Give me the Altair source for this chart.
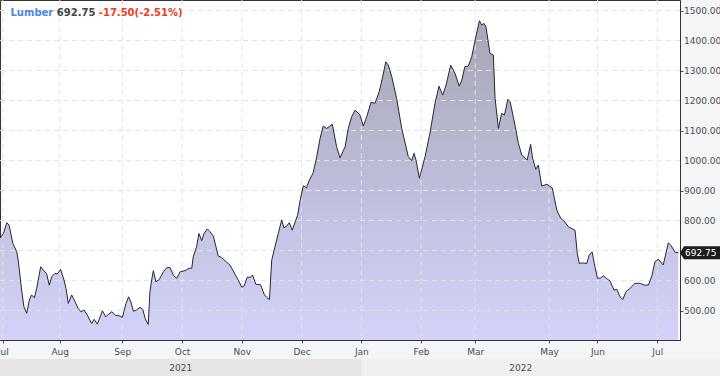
import altair as alt
import pandas as pd

# ---- data (x = trading-session index, y = price) ----
session = [0.0, 1.2, 2.4, 3.2, 4.5, 5.9, 6.4, 7.6, 8.4, 9.4, 10.3, 11.1, 12.1, 12.9, 14.3, 15.2, 16.4, 17.3, 18.2, 19.3,
           20.1, 21.3, 22.5, 23.2, 24.0, 25.2, 26.4, 27.5, 28.5, 29.5, 30.7, 32.2, 33.1, 34.2, 36.0, 37.2, 38.1, 39.3,
           40.7, 41.8, 43.0, 44.3, 45.2, 46.0, 46.9, 48.0, 49.2, 50.2, 51.0, 52.1, 52.7, 53.3, 53.9, 54.8, 56.0, 57.4,
           58.6, 59.8, 60.9, 62.1, 63.3, 65.0, 66.5, 67.4, 67.9, 69.1, 69.9, 70.9, 71.7, 72.9, 73.8, 75.0, 75.9, 76.7,
           77.9, 79.1, 80.8, 81.8, 83.2, 85.0, 85.8, 86.9, 87.9, 88.8, 89.9, 91.6, 92.8, 93.7, 94.7, 95.5, 96.7, 97.8,
           99.0, 99.8, 100.8, 101.7, 102.7, 104.6, 105.5, 106.6, 107.7, 108.7, 110.0, 111.1, 112.5, 113.6, 114.8,
           116.8, 118.3, 119.5, 121.3, 122.4, 123.6, 124.8, 126.5, 127.7, 128.9, 130.4, 131.8, 133.3, 134.5, 135.6,
           136.5, 137.7, 139.4, 141.2, 143.5, 144.7, 145.5, 146.2, 147.4, 149.4, 151.1, 152.9, 154.3, 155.6, 156.8,
           158.4, 159.9, 161.4, 162.3, 163.4, 164.6, 165.8, 167.0, 168.5, 169.3, 170.1, 170.8, 172.2, 173.4, 174.0,
           175.2, 176.3, 177.3, 178.5, 179.3, 181.0, 182.2, 183.4, 185.3, 186.5, 187.2, 188.3, 189.2, 190.4, 192.2,
           194.1, 195.7, 197.1, 198.2, 199.8, 202.1, 202.9, 203.6, 204.8, 206.2, 207.1, 208.1, 209.1, 210.0, 211.1,
           212.1, 213.2, 214.4, 215.8, 216.8, 217.9, 218.9, 220.0, 221.4, 223.2, 225.0, 226.4, 227.9, 229.1, 230.2,
           231.4, 233.1, 234.9, 235.9, 237.3, 238.4]
price = [741, 757, 793, 785, 724, 696, 668, 568, 513, 491, 535, 552, 543, 574, 646, 635, 622, 585, 613, 624,
         622, 637, 602, 574, 524, 552, 529, 507, 496, 502, 485, 457, 471, 455, 499, 479, 488, 496,
         484, 483, 477, 524, 546, 529, 498, 502, 511, 504, 474, 454, 563, 602, 633, 596, 604, 629,
         643, 643, 618, 607, 629, 633, 641, 641, 679, 713, 757, 733, 757, 772, 763, 748, 713, 682,
         677, 666, 652, 635, 611, 578, 582, 611, 611, 618, 588, 586, 555, 544, 537, 668, 715, 757,
         802, 776, 782, 793, 768, 818, 868, 916, 909, 935, 957, 1002, 1074, 1115, 1107,
         1121, 1046, 1009, 1046, 1107, 1146, 1168, 1152, 1115, 1146, 1194, 1191, 1230, 1279, 1329,
         1318, 1279, 1207, 1107, 1013, 1000, 1024, 1002, 941, 1013, 1091, 1191, 1248, 1218, 1252,
         1318, 1291, 1248, 1268, 1313, 1315, 1346, 1402, 1466, 1452, 1457, 1446, 1357, 1352, 1207,
         1107, 1157, 1152, 1204, 1196, 1118, 1057, 1018, 1002, 1054, 1007, 971, 985, 915, 921,
         909, 835, 807, 799, 779, 768, 691, 657, 659, 657, 685, 696, 646, 607, 609,
         616, 607, 599, 568, 571, 546, 537, 563, 574, 591, 591, 585, 585, 615, 663,
         671, 652, 726, 716, 694, 692.75]

month_idx = [1, 21, 43, 64, 85, 106, 127, 148, 167, 193, 210, 231]
month_lbl = ["Jul", "Aug", "Sep", "Oct", "Nov", "Dec", "Jan", "Feb", "Mar", "May", "Jun", "Jul"]
y_ticks = [500, 600, 700, 800, 900, 1000, 1100, 1200, 1300, 1400, 1500]
years = ["2021", "2022"]
year_start = [0, 127]
year_end = [127, 239]

symbol = "Lumber"
last_price = 692.75
change = -17.50
change_pct = -2.51

FONT = "DejaVu Sans"
Y_MIN, Y_MAX = 402, 1535

df = pd.DataFrame({"s": session, "p": price})
df_y = pd.DataFrame({"p": y_ticks})
# labels hidden behind the last-price marker are not drawn (as in the reference)
df_ylab = pd.DataFrame({"p": [v for v in y_ticks if abs(v - last_price) > 20]})
df_ylab["t"] = [f"{v:.2f}" for v in df_ylab["p"]]
df_m = pd.DataFrame({"s": month_idx})
df_year = pd.DataFrame({"year": years, "start": year_start, "end": year_end})
df_year["s"] = (df_year["start"] + df_year["end"]) / 2
df_last = pd.DataFrame({"p": [last_price], "t": [f"{last_price:.2f}"]})
df_one = pd.DataFrame({"a": [0]})

xs = alt.Scale(domain=[0, 239], nice=False, zero=False)
ys = alt.Scale(domain=[Y_MIN, Y_MAX], nice=False, zero=False)

label_expr = ("[" + ",".join(f"'{m}'" for m in month_lbl) + "][indexof(["
              + ",".join(str(i) for i in month_idx) + "], datum.value)]")

grad = alt.Gradient(
    gradient="linear",
    stops=[alt.GradientStop(color="#a6a6b3", offset=0),
           alt.GradientStop(color="#bdbdda", offset=0.5),
           alt.GradientStop(color="#d3d3f9", offset=1)],
    x1=1, x2=1, y1=0, y2=1)

X = alt.X("s:Q", scale=xs, title=None,
          axis=alt.Axis(values=month_idx, labelExpr=label_expr, grid=False,
                        domainColor="#333333", tickColor="#555555", tickSize=3,
                        labelFont=FONT, labelFontSize=9, labelColor="#4d4d4d",
                        labelPadding=4, labelFlush=False, labelOverlap=False))
Y = alt.Y("p:Q", scale=ys, title=None,
          axis=alt.Axis(orient="right", values=y_ticks, grid=False, labels=False,
                        domainColor="#333333", tickColor="#555555", tickSize=3))

area = alt.Chart(df).mark_area(color=grad, clip=True).encode(x=X, y=Y, y2=alt.datum(Y_MIN))

hgrid = alt.Chart(df_y).mark_rule(color="#e3e3e3", strokeDash=[5, 4], strokeWidth=1).encode(
    y=alt.Y("p:Q", scale=ys, title=None))
vgrid = alt.Chart(df_m).mark_rule(color="#e3e3e3", strokeDash=[5, 4], strokeWidth=1).encode(
    x=alt.X("s:Q", scale=xs, title=None))

line = alt.Chart(df).mark_line(color="#262638", strokeWidth=1).encode(
    x=alt.X("s:Q", scale=xs, title=None),
    y=alt.Y("p:Q", scale=ys, title=None))

ylabels = alt.Chart(df_ylab).mark_text(font=FONT, fontSize=9, color="#4d4d4d", align="left",
                                       baseline="middle").encode(
    x=alt.value(684), y=alt.Y("p:Q", scale=ys, title=None), text="t:N")

band = alt.Chart(df_year).mark_rect().encode(
    x=alt.X("start:Q", scale=xs, title=None),
    x2=alt.value(720),
    y=alt.value(359), y2=alt.value(376),
    color=alt.Color("year:N", scale=alt.Scale(domain=years, range=["#e6e6e6", "#f0f0f0"]), legend=None))

band_text = alt.Chart(df_year).mark_text(font=FONT, fontSize=9, color="#4d4d4d", baseline="middle").encode(
    x=alt.X("s:Q", scale=xs, title=None),
    y=alt.value(367.5),
    text="year:N")

box_path = "M -1 0 L -0.8 -0.32 L 1.1 -0.32 L 1.1 0.32 L -0.8 0.32 Z"
last_box = alt.Chart(df_last).mark_point(shape=box_path, size=1600, filled=True, color="#1c1c1c",
                                         opacity=1, strokeWidth=0).encode(
    x=alt.value(700), y=alt.Y("p:Q", scale=ys, title=None))
last_text = alt.Chart(df_last).mark_text(font=FONT, fontSize=9, color="#ffffff", align="left",
                                         baseline="middle").encode(
    x=alt.value(685), y=alt.Y("p:Q", scale=ys, title=None), text="t:N")

t1 = alt.Chart(df_one).mark_text(text=symbol, font=FONT, fontSize=10, fontWeight="bold",
                                 color="#4a86e8", align="left", baseline="alphabetic").encode(
    x=alt.value(10.5), y=alt.value(15.5))
t2 = alt.Chart(df_one).mark_text(text=f"{last_price:.2f}", font=FONT, fontSize=10, fontWeight="bold",
                                 color="#444444", align="left", baseline="alphabetic").encode(
    x=alt.value(56.8), y=alt.value(15.5))
t3 = alt.Chart(df_one).mark_text(text=f"{change:.2f}({change_pct:.2f}%)", font=FONT, fontSize=10,
                                 fontWeight="bold", color="#e8401c", align="left",
                                 baseline="alphabetic").encode(
    x=alt.value(98.8), y=alt.value(15.5))

chart = alt.layer(area, hgrid, vgrid, line, ylabels, band, band_text, last_box, last_text,
                  t1, t2, t3).properties(
    width=680, height=340,
    autosize=alt.AutoSizeParams(type="none"),
    padding={"left": 0, "top": 0, "right": 40, "bottom": 36},
    background="#f4f5f7",
).configure_view(fill="#ffffff", stroke="#333333", strokeWidth=1)

chart.save("out.html", embed_options={"renderer": "svg", "actions": False})
